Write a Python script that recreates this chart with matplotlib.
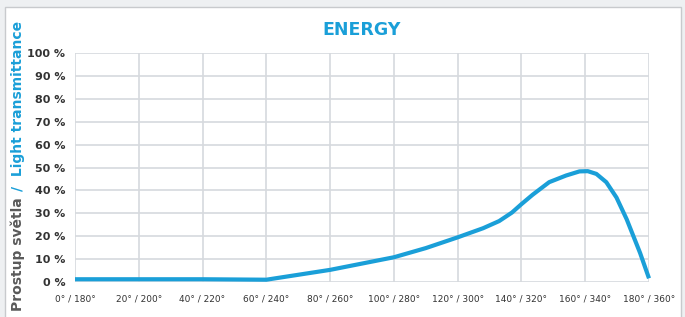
import matplotlib
matplotlib.use("Agg")
import matplotlib.pyplot as plt
from matplotlib.patches import Rectangle

# Data
angles = [0, 20, 40, 60, 80, 100, 110, 120, 128, 133, 137, 140, 143.5, 148.7, 154, 158.2, 160.8, 163.5, 166.6, 169.8, 173, 177.2, 180]
transmittance = [1.2, 1.2, 1.2, 1.0, 5.3, 10.8, 14.8, 19.5, 23.5, 26.6, 30.3, 34.0, 38.1, 43.6, 46.5, 48.3, 48.4, 47.2, 43.6, 36.9, 27.4, 12.7, 1.6]
xtick_pos = [0, 20, 40, 60, 80, 100, 120, 140, 160, 180]
xtick_labels = ["0° / 180°", "20° / 200°", "40° / 220°", "60° / 240°", "80° / 260°",
                "100° / 280°", "120° / 300°", "140° / 320°", "160° / 340°", "180° / 360°"]
ytick_pos = [0, 10, 20, 30, 40, 50, 60, 70, 80, 90, 100]
ytick_labels = [f"{v} %" for v in ytick_pos]

BLUE = "#1a9fd8"
GRAY_TXT = "#5a5a5a"
GRID = "#d6d9de"

fig = plt.figure(figsize=(6.85, 3.17), dpi=100)
fig.patch.set_facecolor("#eef0f2")
fig.patches.append(Rectangle((5/685, -0.01), 676/685, 1.01 - 7/317, transform=fig.transFigure,
                             facecolor="white", edgecolor="#c8cacd", linewidth=1.0, zorder=-10))

ax = fig.add_axes([75/685, 1 - 282/317, (649 - 75)/685, (282 - 53)/317])
ax.set_zorder(5)
ax.set_facecolor("none")
ax.plot(angles, transmittance, color=BLUE, linewidth=3.0, solid_capstyle="butt",
        solid_joinstyle="round", zorder=3, clip_on=False)
ax.set_xlim(0, 180)
ax.set_ylim(0, 100)
ax.set_xticks(xtick_pos)
ax.set_xticklabels(xtick_labels, fontsize=6.5, color="#333333")
ax.set_yticks(ytick_pos)
ax.set_yticklabels(ytick_labels, fontsize=8, color="#333333", fontweight="bold")
ax.tick_params(length=0, pad=9)
ax.tick_params(axis="y", pad=7)
ax.grid(True, color=GRID, linewidth=1.2)
for s in ax.spines.values():
    s.set_visible(False)

fig.text(362/685, 1 - 30/317, "ENERGY", color=BLUE, fontsize=12.5, fontweight="bold",
         ha="center", va="center")

# two-colour rotated y label
t1 = fig.text(18/685, 1 - 311/317, "Prostup světla", color=GRAY_TXT, fontsize=10, fontweight="bold",
              rotation=90, ha="center", va="bottom")
fig.canvas.draw()
r = fig.canvas.get_renderer()
bb = t1.get_window_extent(r)
ytop = bb.y1 / fig.bbox.height
fig.text(18/685, ytop + 6/317, "/  Light transmittance", color=BLUE, fontsize=10, fontweight="bold",
         rotation=90, ha="center", va="bottom")

fig.savefig("out.png", dpi=100, facecolor=fig.get_facecolor())
